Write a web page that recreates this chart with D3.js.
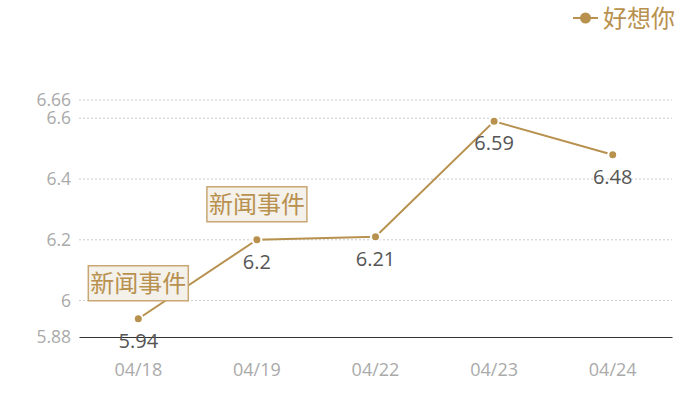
<!DOCTYPE html>
<html>
<head>
<meta charset="utf-8">
<script src="https://cdn.jsdelivr.net/npm/d3@7"></script>
<style>
  html, body { margin: 0; padding: 0; background: #fff; }
  svg { display: block; font-family: "Open Sans", "Noto Sans CJK SC", sans-serif; }
</style>
</head>
<body>
<svg id="chart" width="700" height="400"></svg>
<script>
// ---- data ----
const categories = ['04/18', '04/19', '04/22', '04/23', '04/24'];
const values = [5.94, 6.2, 6.21, 6.59, 6.48];
const yTicks = [5.88, 6, 6.2, 6.4, 6.6, 6.66];
const seriesName = '好想你';
// annotation boxes pinned to category index
const notes = [
  {idx: 0, text: '新闻事件'},
  {idx: 1, text: '新闻事件'}
];

const gold = '#b8914f';
const svg = d3.select('#chart');
const m = {top: 100, right: 28, bottom: 63, left: 79};
const W = 700 - m.left - m.right;
const H = 400 - m.top - m.bottom;
const g = svg.append('g').attr('transform', `translate(${m.left},${m.top})`);

const x = d3.scaleBand().domain(categories).range([0, W]);
const y = d3.scaleLinear().domain([5.88, 6.66]).range([H, 0]);
const cx = d => x(d) + x.bandwidth() / 2;

// grid
g.append('g').selectAll('line').data(yTicks.filter(t => t !== 5.88)).join('line')
  .attr('x1', 0).attr('x2', W)
  .attr('y1', d => y(d)).attr('y2', d => y(d))
  .attr('stroke', '#ccc').attr('stroke-dasharray', '2,2');

// y axis labels
const yAxis = g.append('g').call(d3.axisLeft(y).tickValues(yTicks).tickSize(0).tickPadding(8).tickFormat(d => d));
yAxis.select('.domain').remove();
yAxis.selectAll('text').attr('fill', '#aaa').attr('font-size', 17.5).attr('font-family', '"Open Sans", sans-serif');

// x axis
const xAxis = g.append('g').attr('transform', `translate(0,${H})`)
  .call(d3.axisBottom(x).tickSize(0).tickPadding(26));
xAxis.select('.domain').attr('stroke', '#333');
xAxis.selectAll('text').attr('fill', '#aaa').attr('font-size', 18).attr('font-family', '"Open Sans", sans-serif');

// line
const pts = categories.map((c, i) => ({c, v: values[i]}));
g.append('path').datum(pts)
  .attr('fill', 'none').attr('stroke', gold).attr('stroke-width', 2)
  .attr('d', d3.line().x(d => cx(d.c)).y(d => y(d.v)));

g.append('g').selectAll('circle').data(pts).join('circle')
  .attr('cx', d => cx(d.c)).attr('cy', d => y(d.v)).attr('r', 4.5)
  .attr('fill', gold).attr('stroke', '#fff').attr('stroke-width', 2);

// value labels
g.append('g').selectAll('text').data(pts).join('text')
  .attr('x', d => cx(d.c)).attr('y', d => y(d.v) + 29)
  .attr('text-anchor', 'middle').attr('fill', '#555').attr('font-size', 20)
  .text(d => d.v);

// annotations
const ng = g.append('g').selectAll('g').data(notes).join('g')
  .attr('transform', d => `translate(${cx(categories[d.idx])},${y(values[d.idx]) - 18})`);
ng.append('rect')
  .attr('x', -50).attr('y', -35).attr('width', 100).attr('height', 35)
  .attr('fill', '#f4f0ea').attr('stroke', '#c9a773').attr('stroke-width', 1.5);
ng.append('text')
  .attr('x', 0).attr('y', -9).attr('text-anchor', 'middle')
  .attr('fill', gold).attr('font-size', 24)
  .attr('font-family', '"Noto Sans CJK SC", sans-serif')
  .text(d => d.text);

// legend
const lg = svg.append('g').attr('transform', 'translate(573,18)');
lg.append('line').attr('x1', 0).attr('x2', 25).attr('stroke', gold).attr('stroke-width', 2);
lg.append('circle').attr('cx', 12.5).attr('r', 5.5).attr('fill', gold);
lg.append('text').attr('x', 30).attr('y', 9).attr('fill', gold).attr('font-size', 24)
  .attr('font-family', '"Noto Sans CJK SC", sans-serif').text(seriesName);
</script>
</body>
</html>
